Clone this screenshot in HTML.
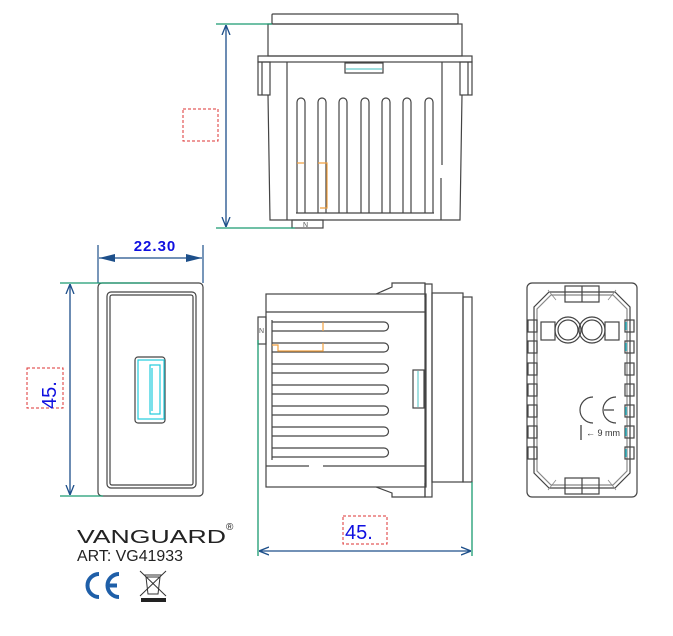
<!DOCTYPE html>
<html><head><style>html,body{margin:0;padding:0;background:#fff}svg{display:block}</style></head><body>
<svg width="673" height="636" viewBox="0 0 673 636" xmlns="http://www.w3.org/2000/svg" font-family="Liberation Sans, sans-serif">
<defs>
<marker id="ar" viewBox="0 0 10 10" refX="10" refY="5" markerWidth="10" markerHeight="10" orient="auto-start-reverse" markerUnits="userSpaceOnUse"><path d="M0,1 L10,5 L0,9" fill="none" stroke="#1d4f8a" stroke-width="1.3"/></marker>
<marker id="af" viewBox="0 0 20 10" refX="20" refY="5" markerWidth="18" markerHeight="8" orient="auto-start-reverse" markerUnits="userSpaceOnUse"><path d="M0,0 L20,5 L0,10z" fill="#1d4f8a"/></marker>
</defs>
<g fill="none" stroke="#444" stroke-width="1.2">
<!-- TOP VIEW -->
<rect x="272" y="14" width="186" height="10" rx="1"/>
<rect x="268" y="24" width="194" height="32"/>
<rect x="258" y="56" width="214" height="6"/>
<rect x="258" y="62" width="12" height="33"/><rect x="460" y="62" width="12" height="33"/>
<line x1="262" y1="62" x2="262" y2="95"/><line x1="468" y1="62" x2="468" y2="95"/>
<path d="M268 95 L270 220 L460 220 L462 95"/>
<line x1="287" y1="62" x2="287" y2="220"/><line x1="442" y1="62" x2="442" y2="165"/><line x1="441" y1="178" x2="441" y2="220"/>
<rect x="345" y="63" width="38" height="10"/>
<line x1="346" y1="69" x2="382" y2="69" stroke="#6cc"/>
<g>
<path d="M297 213 V102 a4 4 0 0 1 8 0 V213"/><path d="M318 213 V102 a4 4 0 0 1 8 0 V213"/><path d="M339 213 V102 a4 4 0 0 1 8 0 V213"/><path d="M361 213 V102 a4 4 0 0 1 8 0 V213"/><path d="M382 213 V102 a4 4 0 0 1 8 0 V213"/><path d="M403 213 V102 a4 4 0 0 1 8 0 V213"/><path d="M425 213 V102 a4 4 0 0 1 8 0 V213"/>
<line x1="296" y1="213" x2="434" y2="213"/>
</g>
<path d="M297 163 H304 M318 163 H327 V208 H320" stroke="#f0a040"/>
<rect x="292" y="220" width="31" height="8"/><text x="303" y="227" font-size="7" fill="#555" stroke="none">N</text>
<!-- top dimension -->
<line x1="216" y1="24" x2="272" y2="24" stroke="#1a9a70" stroke-width="1.3"/>
<line x1="216" y1="228" x2="295" y2="228" stroke="#1a9a70" stroke-width="1.3"/>
<line x1="226" y1="25" x2="226" y2="227" stroke="#1d4f8a" stroke-width="1.3" marker-start="url(#ar)" marker-end="url(#ar)"/>
<rect x="183" y="109" width="35" height="32" stroke="#d33" stroke-width="1" stroke-dasharray="3,2"/>

<!-- FRONT VIEW -->
<rect x="98" y="283" width="105" height="213" rx="4"/>
<rect x="107" y="292" width="89" height="196" rx="4"/>
<rect x="110" y="295" width="83" height="190" rx="2"/>
<rect x="135" y="357" width="30" height="66" rx="3"/>
<rect x="138" y="360" width="26" height="59" stroke="#2cd"/>
<rect x="150" y="365" width="10" height="49" stroke="#2cd"/>
<line x1="152" y1="368" x2="152" y2="411" stroke="#2cd"/>
<line x1="98" y1="245" x2="98" y2="283" stroke="#1d4f8a"/><line x1="203" y1="245" x2="203" y2="283" stroke="#1d4f8a"/>
<line x1="99" y1="258" x2="202" y2="258" stroke="#1d4f8a" stroke-width="1.3" marker-start="url(#af)" marker-end="url(#af)"/>
<line x1="60" y1="283" x2="150" y2="283" stroke="#1a9a70" stroke-width="1.3"/>
<line x1="60" y1="496" x2="103" y2="496" stroke="#1a9a70" stroke-width="1.3"/>
<line x1="70" y1="284" x2="70" y2="495" stroke="#1d4f8a" stroke-width="1.3" marker-start="url(#ar)" marker-end="url(#ar)"/>
<rect x="27" y="368" width="36" height="40" stroke="#d33" stroke-width="1" stroke-dasharray="3,2"/>

<!-- SIDE VIEW -->
<rect x="266" y="294" width="160" height="193"/>
<path d="M376 294 L392 287 V283 H425 V297"/><path d="M376 487 L392 493 V497 H425 V483"/>
<rect x="425" y="284" width="7" height="213"/>
<rect x="432" y="293" width="31" height="189"/>
<rect x="463" y="297" width="9" height="185"/>
<line x1="266" y1="312" x2="425" y2="312"/>
<line x1="266" y1="466" x2="309" y2="466"/><line x1="323" y1="466" x2="425" y2="466"/>
<g>
<path d="M272 322 H384 a4.5 4.5 0 0 1 0 9 H272"/><path d="M272 343 H384 a4.5 4.5 0 0 1 0 9 H272"/><path d="M272 364 H384 a4.5 4.5 0 0 1 0 9 H272"/><path d="M272 385 H384 a4.5 4.5 0 0 1 0 9 H272"/><path d="M272 406 H384 a4.5 4.5 0 0 1 0 9 H272"/><path d="M272 427 H384 a4.5 4.5 0 0 1 0 9 H272"/><path d="M272 448 H384 a4.5 4.5 0 0 1 0 9 H272"/>
<line x1="272" y1="320" x2="272" y2="460"/>
</g>
<path d="M323 322 V331 M272 345 H278 V351 H323 V343" stroke="#f0a040"/>
<rect x="258" y="317" width="8" height="27"/><text x="259" y="333" font-size="7" fill="#555" stroke="none">N</text>
<rect x="413" y="370" width="11" height="38"/><line x1="418" y1="371" x2="418" y2="407" stroke="#6cc"/>
<line x1="258" y1="340" x2="258" y2="556" stroke="#1a9a70" stroke-width="1.3"/>
<line x1="472" y1="482" x2="472" y2="556" stroke="#1a9a70" stroke-width="1.3"/>
<line x1="259" y1="551" x2="471" y2="551" stroke="#1d4f8a" stroke-width="1.3" marker-start="url(#ar)" marker-end="url(#ar)"/>
<rect x="343" y="516" width="44" height="28" stroke="#d33" stroke-width="1" stroke-dasharray="3,2"/>

<!-- BACK VIEW -->
<rect x="527" y="283" width="110" height="214" rx="5"/>
<path d="M549 292 H615 L630 307 V473 L615 488 H549 L534 473 V307 Z"/>
<path d="M551 295 H613 L627 309 V471 L613 485 H551 L537 471 V309 Z" stroke="#888"/>
<rect x="565" y="286" width="34" height="16"/><line x1="582" y1="286" x2="582" y2="302"/>
<rect x="565" y="478" width="34" height="16"/><line x1="582" y1="478" x2="582" y2="494"/>
<circle cx="568" cy="330" r="13"/><circle cx="568" cy="330" r="10"/>
<circle cx="592" cy="330" r="13"/><circle cx="592" cy="330" r="10"/>
<rect x="541" y="322" width="14" height="18"/><rect x="605" y="322" width="14" height="18"/>
<g>
<rect x="528" y="320" width="9" height="12"/><rect x="528" y="341" width="9" height="12"/><rect x="528" y="363" width="9" height="12"/><rect x="528" y="384" width="9" height="12"/><rect x="528" y="405" width="9" height="12"/><rect x="528" y="426" width="9" height="12"/><rect x="528" y="447" width="9" height="12"/>
<rect x="625" y="320" width="9" height="12"/><rect x="625" y="341" width="9" height="12"/><rect x="625" y="363" width="9" height="12"/><rect x="625" y="384" width="9" height="12"/><rect x="625" y="405" width="9" height="12"/><rect x="625" y="426" width="9" height="12"/><rect x="625" y="447" width="9" height="12"/>
</g>
<g stroke="#2cd"><line x1="626" y1="322" x2="626" y2="330"/><line x1="626" y1="343" x2="626" y2="351"/><line x1="626" y1="407" x2="626" y2="415"/><line x1="626" y1="428" x2="626" y2="436"/><line x1="626" y1="449" x2="626" y2="457"/></g>
<path d="M593 397 a13 13 0 1 0 0 26" stroke-width="1.2"/>
<path d="M616 397 a13 13 0 1 0 0 26 M604 410 H614" stroke-width="1.2"/>
<line x1="581" y1="425" x2="581" y2="440" stroke="#333" stroke-width="1.2"/>
</g>
<g fill="none" stroke="#888" stroke-width="0.8"><path d="M556 300 L548 290 M608 300 L616 290 M556 480 L548 490 M608 480 L616 490"/></g>
<text x="586" y="436" font-size="9" fill="#333">← 9 mm</text>

<!-- texts -->
<text x="155" y="251" font-size="15" font-weight="bold" fill="#1010e0" text-anchor="middle" letter-spacing="1">22.30</text>
<text x="0" y="0" font-size="20" fill="#1010e0" transform="translate(56,409) rotate(-90)">45.</text>
<text x="345" y="539" font-size="20" fill="#1010e0">45.</text>
<text x="77" y="543" font-size="18" fill="#222" textLength="149" lengthAdjust="spacingAndGlyphs">VANGUARD</text>
<text x="226" y="530" font-size="10" fill="#222">®</text>
<text x="77" y="561" font-size="16" fill="#222" textLength="106" lengthAdjust="spacingAndGlyphs">ART: VG41933</text>
<g fill="none" stroke="#1f5fa8" stroke-width="4">
<path d="M99 574 a11.5 11.5 0 1 0 0 23"/><path d="M119 574 a11.5 11.5 0 1 0 0 23 M108 585.5 H117"/>
</g>
<g fill="none" stroke="#333" stroke-width="1">
<path d="M146 577 H160 L158 594 H148 Z"/><line x1="144" y1="575" x2="162" y2="575"/>
<line x1="140" y1="571" x2="166" y2="596"/><line x1="166" y1="571" x2="140" y2="596"/>
</g>
<rect x="141" y="598" width="25" height="4" fill="#222"/>
</svg>
</body></html>
